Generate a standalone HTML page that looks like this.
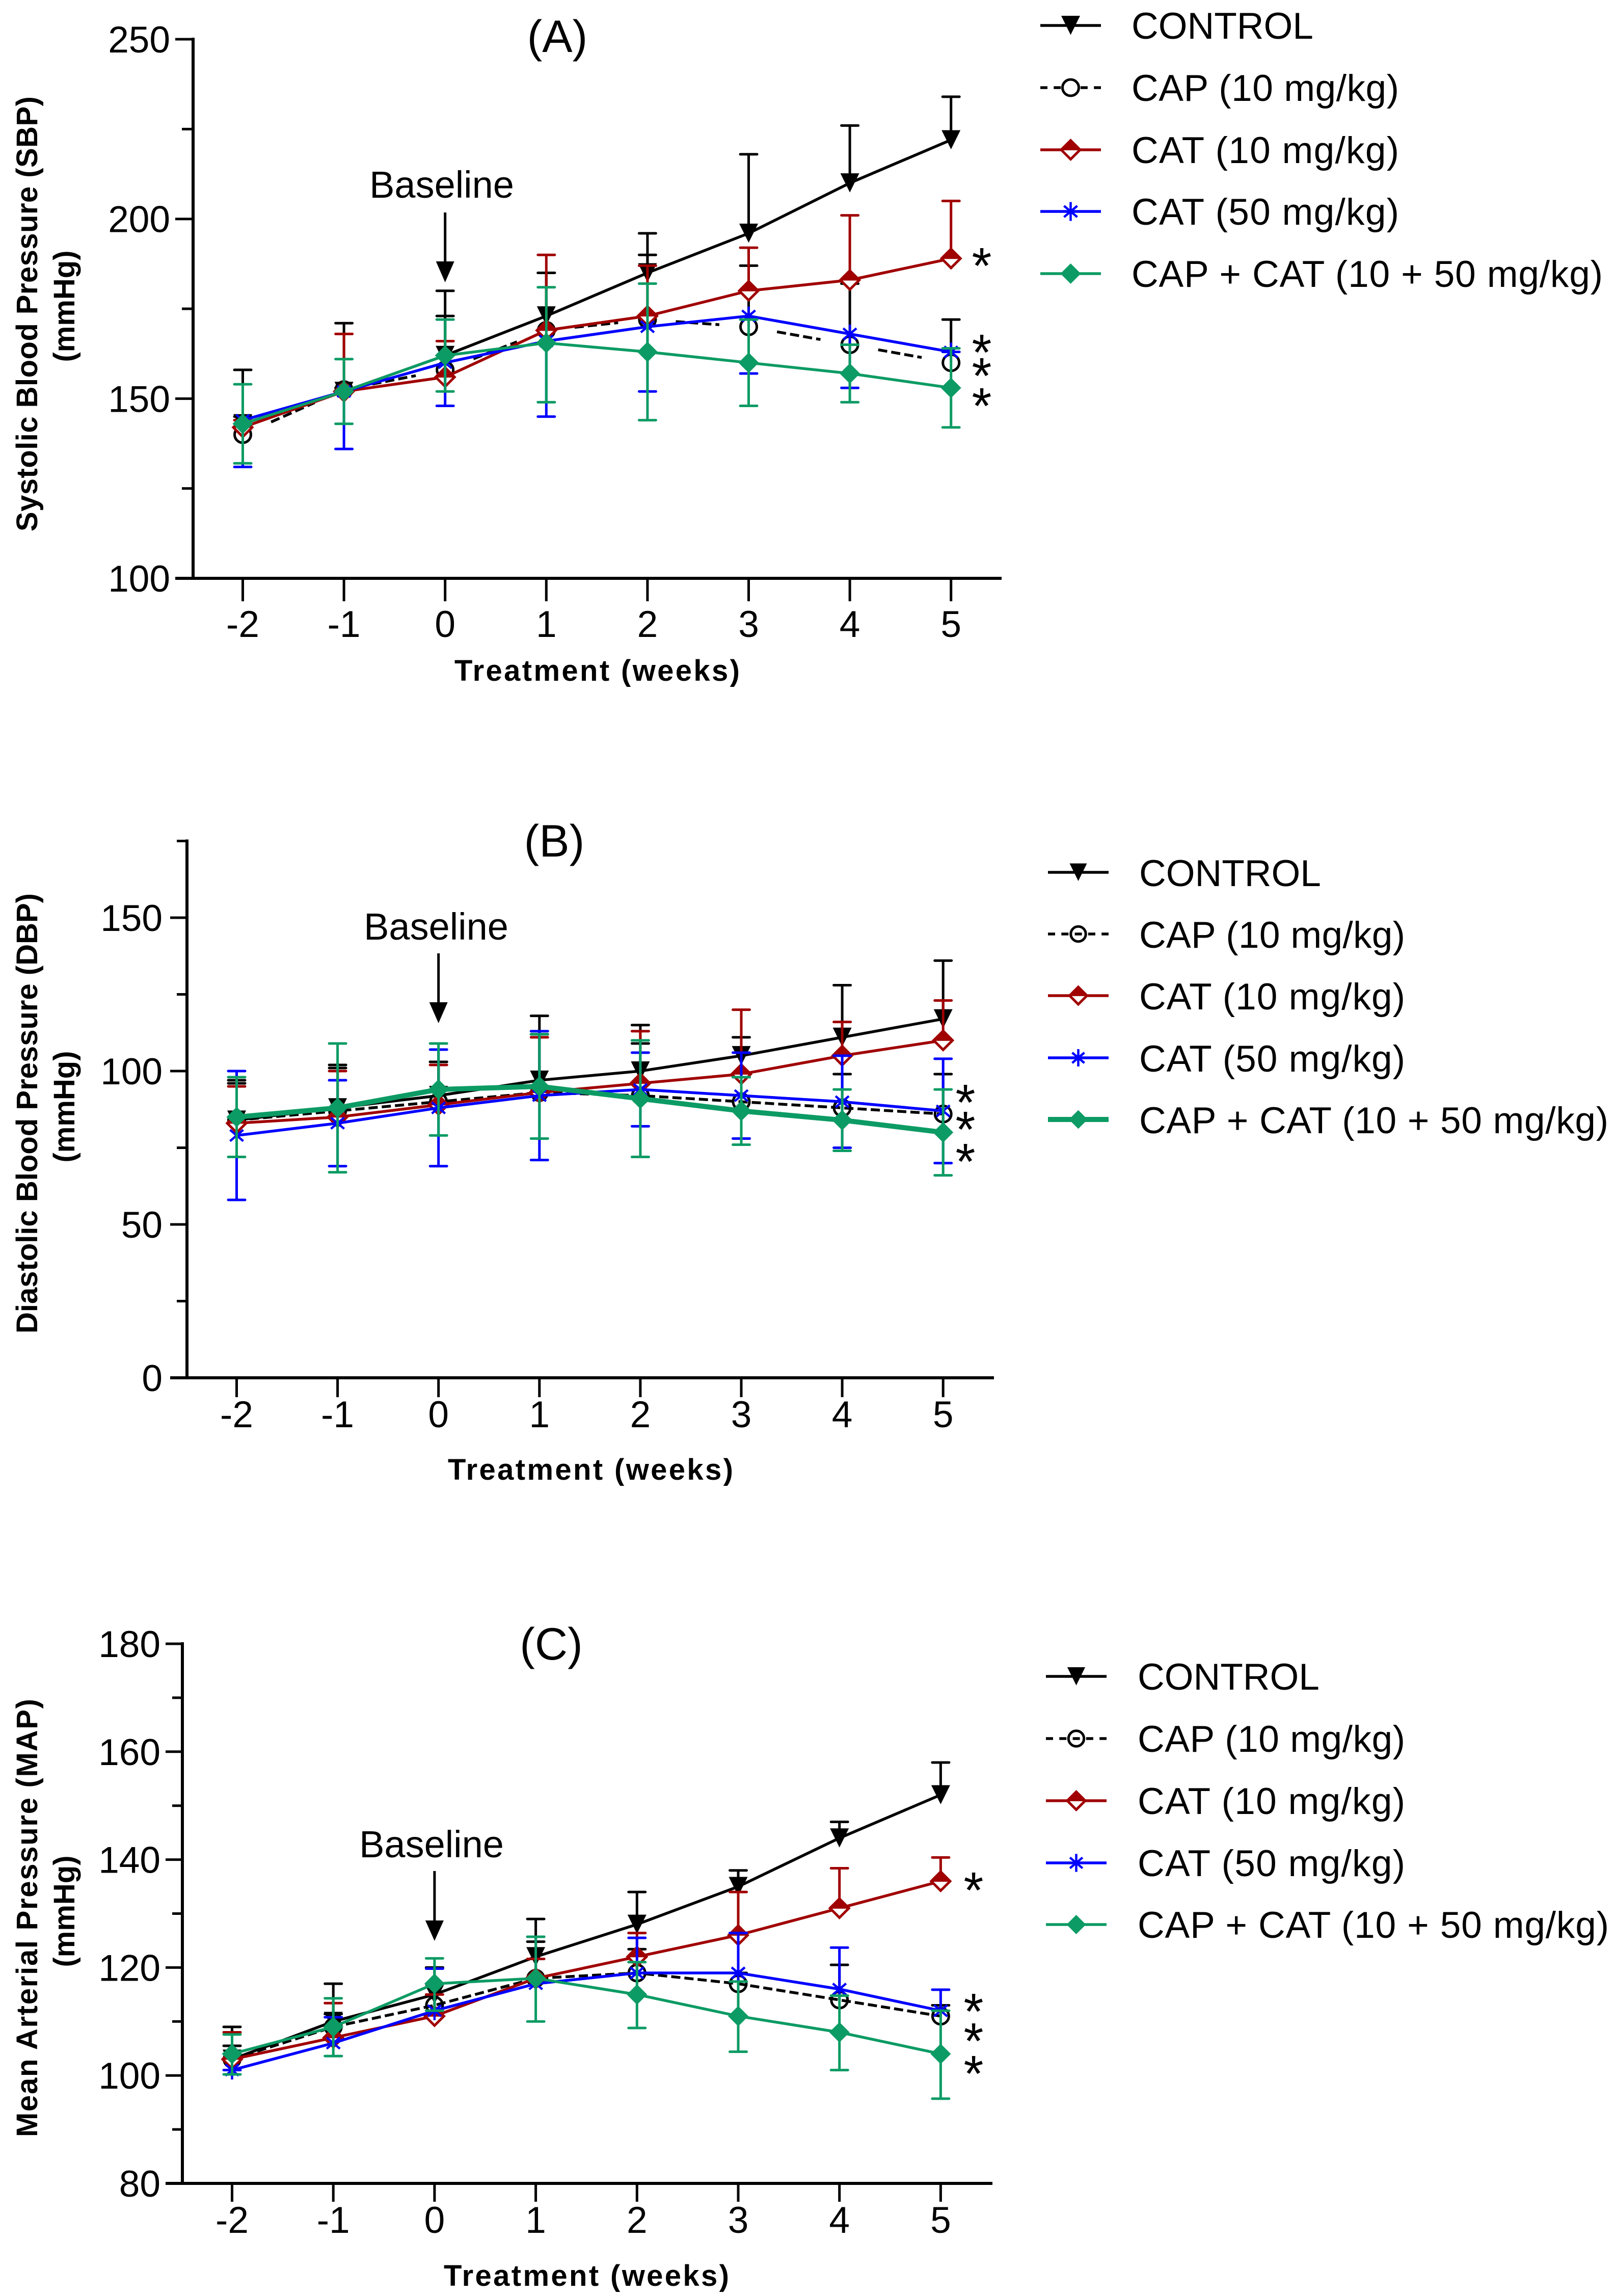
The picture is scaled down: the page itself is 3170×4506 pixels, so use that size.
<!DOCTYPE html>
<html lang="en">
<head>
<meta charset="utf-8">
<title>Blood pressure over treatment weeks</title>
<style>
html,body{margin:0;padding:0;background:#fff;}
svg{display:block;}
text{font-family:"Liberation Sans",Arial,sans-serif;fill:#000;}
.bold{font-weight:bold;font-size:58px;}
.tick{font-size:73px;}
.panel{font-size:89px;text-anchor:middle;}
.base{font-size:74px;text-anchor:middle;}
.leg{font-size:73px;}
.star{font-size:100px;text-anchor:middle;}
</style>
</head>
<body>
<svg id="fig" xmlns="http://www.w3.org/2000/svg" width="3170" height="4506" viewBox="0 0 3170 4506">
<rect width="3170" height="4506" fill="#fff"/>

<g id="panelA">
  <text class="panel" x="1094" y="102">(A)</text>
  <text class="bold" transform="translate(73,616) rotate(-90)" text-anchor="middle" textLength="854" lengthAdjust="spacing">Systolic Blood Pressure (SBP)</text>
  <text class="bold" transform="translate(146,601) rotate(-90)" text-anchor="middle">(mmHg)</text>
  <text class="bold" x="1172" y="1336" text-anchor="middle" textLength="560" lengthAdjust="spacing">Treatment (weeks)</text>
  <text class="base" x="867" y="388">Baseline</text>
  <text class="star" x="1927" y="556">*</text>
  <text class="star" x="1927" y="726">*</text>
  <text class="star" x="1927" y="772">*</text>
  <text class="star" x="1927" y="831">*</text>
</g>
<g id="legendA">
  <text class="leg" x="2221" y="76">CONTROL</text>
  <text class="leg" x="2221" y="198" textLength="525" lengthAdjust="spacing">CAP (10 mg/kg)</text>
  <text class="leg" x="2221" y="320" textLength="525" lengthAdjust="spacing">CAT (10 mg/kg)</text>
  <text class="leg" x="2221" y="441" textLength="525" lengthAdjust="spacing">CAT (50 mg/kg)</text>
  <text class="leg" x="2221" y="563" textLength="925" lengthAdjust="spacing">CAP + CAT (10 + 50 mg/kg)</text>
</g>

<g id="panelB">
  <text class="panel" x="1088" y="1681">(B)</text>
  <text class="bold" transform="translate(73,2185) rotate(-90)" text-anchor="middle" textLength="864" lengthAdjust="spacing">Diastolic Blood Pressure (DBP)</text>
  <text class="bold" transform="translate(146,2172) rotate(-90)" text-anchor="middle">(mmHg)</text>
  <text class="bold" x="1159" y="2904" text-anchor="middle" textLength="560" lengthAdjust="spacing">Treatment (weeks)</text>
  <text class="base" x="856" y="1844">Baseline</text>
  <text class="star" x="1895" y="2198">*</text>
  <text class="star" x="1895" y="2251">*</text>
  <text class="star" x="1895" y="2314">*</text>
</g>
<g id="legendB">
  <text class="leg" x="2236" y="1739">CONTROL</text>
  <text class="leg" x="2236" y="1860" textLength="522" lengthAdjust="spacing">CAP (10 mg/kg)</text>
  <text class="leg" x="2236" y="1981" textLength="522" lengthAdjust="spacing">CAT (10 mg/kg)</text>
  <text class="leg" x="2236" y="2103" textLength="522" lengthAdjust="spacing">CAT (50 mg/kg)</text>
  <text class="leg" x="2236" y="2224" textLength="921" lengthAdjust="spacing">CAP + CAT (10 + 50 mg/kg)</text>
</g>

<g id="panelC">
  <text class="panel" x="1082" y="3257">(C)</text>
  <text class="bold" transform="translate(73,3764) rotate(-90)" text-anchor="middle" textLength="860" lengthAdjust="spacing">Mean Arterial Pressure (MAP)</text>
  <text class="bold" transform="translate(146,3751) rotate(-90)" text-anchor="middle">(mmHg)</text>
  <text class="bold" x="1151" y="4486" text-anchor="middle" textLength="560" lengthAdjust="spacing">Treatment (weeks)</text>
  <text class="base" x="847" y="3645">Baseline</text>
  <text class="star" x="1911" y="3744">*</text>
  <text class="star" x="1911" y="3982">*</text>
  <text class="star" x="1911" y="4040">*</text>
  <text class="star" x="1911" y="4104">*</text>
</g>
<g id="legendC">
  <text class="leg" x="2233" y="3316">CONTROL</text>
  <text class="leg" x="2233" y="3438" textLength="525" lengthAdjust="spacing">CAP (10 mg/kg)</text>
  <text class="leg" x="2233" y="3560" textLength="525" lengthAdjust="spacing">CAT (10 mg/kg)</text>
  <text class="leg" x="2233" y="3682" textLength="525" lengthAdjust="spacing">CAT (50 mg/kg)</text>
  <text class="leg" x="2233" y="3803" textLength="925" lengthAdjust="spacing">CAP + CAT (10 + 50 mg/kg)</text>
</g>
</svg>

<script>
// ---- shared categories ----
const weeks = [-2, -1, 0, 1, 2, 3, 4, 5];

// ---- Panel A: SBP ----
const aMajorTicks = [100, 150, 200, 250];
const aMinorTicks = [125, 175, 225];
const aControl = [143, 152, 162, 173, 185, 196, 210, 222];
const aControlUp = [158, 171, 180, 185, 196, 218, 226, 234];
const aCap = [140, 152.5, 158, 169, 172, 170, 165, 160];
const aCapUp = [145, 153, 173, 185, 190, 187, 182, 172];
const aCat10 = [142, 152, 156, 169, 173, 180, 183, 189];
const aCat10Up = [144, 168, 166, 190, 187, 192, 201, 205];
const aCat50 = [144, 152, 160, 166, 170, 173, 168, 163];
const aCat50Low = [131, 136, 148, 145, 152, 157, 153, 163];
const aCombo = [143, 152, 162, 165.5, 163, 160, 157, 153];
const aComboUp = [154, 161, 172, 181, 182, 172, 165, 164];
const aComboLow = [132, 143, 152, 149, 144, 148, 149, 142];

// ---- Panel B: DBP ----
const bMajorTicks = [0, 50, 100, 150];
const bMinorTicks = [25, 75, 125, 175];
const bControl = [84, 88, 92, 97, 100, 105, 111, 117];
const bControlUp = [97, 102, 103, 118, 115, 111, 128, 136];
const bCap = [84, 87, 90, 93, 92, 90, 88, 86];
const bCapUp = [96, 101, 103, 112, 109, 98, 99, 99];
const bCat10 = [83, 85, 89, 93, 96, 99, 105, 110];
const bCat10Up = [95, 100, 102, 111, 113, 120, 116, 123];
const bCat50 = [79, 83, 88, 92, 94, 92, 90, 87];
const bCat50Up = [100, 97, 107, 113, 106, 106, 105, 104];
const bCat50Low = [58, 69, 69, 71, 82, 78, 75, 70];
const bCombo = [85, 88, 94, 95, 91, 87, 84, 80];
const bComboUp = [98, 109, 109, 112, 110, 98, 94, 94];
const bComboLow = [72, 67, 79, 78, 72, 76, 74, 66];

// ---- Panel C: MAP ----
const cMajorTicks = [80, 100, 120, 140, 160, 180];
const cMinorTicks = [90, 110, 130, 150, 170];
const cControl = [103, 110, 115, 122, 128, 135, 144, 152];
const cControlUp = [109, 117, 120, 129, 134, 138, 147, 158];
const cCap = [103, 109, 113, 118, 119, 117, 114, 111];
const cCapUp = [105.5, 111.4, 120, 124.8, 123.4, 119, 120.5, 113];
const cCat10 = [103, 107, 111, 118, 122, 126, 131, 136];
const cCat10Up = [108, 113.4, 115, 121.6, 126.4, 134, 138.4, 140.4];
const cCat50 = [101, 106, 112, 117, 119, 119, 116, 112];
const cCat50Up = [101, 110.8, 119.8, 125.7, 125.5, 126.4, 123.7, 115.9];
const cCombo = [104, 109, 117, 118, 115, 111, 108, 104];
const cComboUp = [107.6, 114.3, 121.7, 125.7, 121, 117.4, 114.8, 112];
const cComboLow = [100.2, 103.6, 112, 110, 108.8, 104.4, 101, 95.7];

const NS = 'http://www.w3.org/2000/svg';
const BLACK = '#000000', RED = '#a00000', BLUE = '#0000ff', GREEN = '#0c9b64';

function make(parent, tag, attrs) {
  const el = document.createElementNS(NS, tag);
  for (const k in attrs) el.setAttribute(k, attrs[k]);
  parent.appendChild(el);
  return el;
}

function drawMarker(parent, kind, cx, cy, s, openFill) {
  const g = make(parent, 'g', {});
  
  
  const pts = (arr) => arr.map(p => (cx + p[0] * s) + ',' + (cy + p[1] * s)).join(' ');
  if (kind === 'triangle') {
    make(g, 'polygon', { points: pts([[-18.5, -19], [18.5, -19], [0, 18.5]]), fill: BLACK });
  } else if (kind === 'circle') {
    make(g, 'circle', { cx: cx, cy: cy, r: 16 * s, fill: openFill, stroke: BLACK, 'stroke-width': 5 });
  } else if (kind === 'half-diamond') {
    make(g, 'polygon', { points: pts([[-18.5, 0], [0, -18.5], [18.5, 0], [0, 18.5]]), fill: '#fff', stroke: RED, 'stroke-width': 5 });
    make(g, 'polygon', { points: pts([[-21, 1], [0, -21.5], [21, 1]]), fill: RED });
  } else if (kind === 'star') {
    make(g, 'path', {
      d: 'M' + cx + ' ' + (cy - 18.5 * s) + 'V' + (cy + 18.5 * s) +
         'M' + (cx - 13 * s) + ' ' + (cy - 11 * s) + 'L' + (cx + 13 * s) + ' ' + (cy + 11 * s) +
         'M' + (cx + 13 * s) + ' ' + (cy - 11 * s) + 'L' + (cx - 13 * s) + ' ' + (cy + 11 * s),
      stroke: BLUE, 'stroke-width': 4.5, fill: 'none'
    });
  } else {
    make(g, 'polygon', { points: pts([[-20, 0], [0, -20], [20, 0], [0, 20]]), fill: GREEN });
  }
}

function drawPanel(cfg) {
  const root = document.getElementById(cfg.id);
  const xAt = v => cfg.x0 + (v - weeks[0]) * cfg.step;
  const yAt = v => cfg.yBase - (v - cfg.yMin) * cfg.k;
  const axes = make(root, 'g', {});
  
  

  const yLine = make(axes, 'line', { x1: cfg.axisX, x2: cfg.axisX, y1: yAt(cfg.yTop) - 3, y2: cfg.yBase + 3, stroke: '#000', 'stroke-width': 6 });
  
  
  const xLine = make(axes, 'line', { x1: cfg.tickLeft, x2: cfg.xEnd, y1: cfg.yBase, y2: cfg.yBase, stroke: '#000', 'stroke-width': 6 });
  
  

  cfg.major.forEach(v => {
    const t = make(axes, 'line', { x1: cfg.tickLeft, x2: cfg.axisX, y1: yAt(v), y2: yAt(v), stroke: '#000', 'stroke-width': 5 });
    
    
    const lab = make(axes, 'text', { x: cfg.labelRight, y: yAt(v) + 26, 'text-anchor': 'end', class: 'tick' });
    lab.textContent = String(v);
    
    
  });
  cfg.minor.forEach(v => {
    const t = make(axes, 'line', { x1: cfg.tickLeft + 13, x2: cfg.axisX, y1: yAt(v), y2: yAt(v), stroke: '#000', 'stroke-width': 5 });
    
    
  });
  weeks.forEach(w => {
    const t = make(axes, 'line', { x1: xAt(w), x2: xAt(w), y1: cfg.yBase, y2: cfg.yBase + cfg.xTick, stroke: '#000', 'stroke-width': 5 });
    
    
    const lab = make(axes, 'text', { x: xAt(w), y: cfg.xLabelY, 'text-anchor': 'middle', class: 'tick' });
    lab.textContent = String(w);
    
    
  });

  // baseline arrow
  const ax = xAt(0);
  const shaft = make(root, 'line', { x1: ax, x2: ax, y1: cfg.arrow[0], y2: cfg.arrow[1] + 2, stroke: '#000', 'stroke-width': 5 });
  
  
  const head = make(root, 'polygon', { points: (ax - 18) + ',' + cfg.arrow[1] + ' ' + (ax + 18) + ',' + cfg.arrow[1] + ' ' + ax + ',' + cfg.arrow[2], fill: '#000' });
  
  

  cfg.series.forEach(s => {
    const g = make(root, 'g', {});
    
    
    // error bars
    [s.up, s.low].forEach(list => {
      if (!list) return;
      list.forEach((v, i) => {
        const x = xAt(weeks[i]);
        const stem = make(g, 'line', { x1: x, x2: x, y1: yAt(s.mean[i]), y2: yAt(v), stroke: s.color, 'stroke-width': 5 });
        
        
        const cap = make(g, 'line', { x1: x - 16.5, x2: x + 16.5, y1: yAt(v), y2: yAt(v), stroke: s.color, 'stroke-width': 5, 'stroke-linecap': 'round' });
        
        
      });
    });
    // line
    if (s.dashed && cfg.dashWindow) {
      for (let i = 0; i < weeks.length - 1; i++) {
        const x1 = xAt(weeks[i]), x2 = xAt(weeks[i + 1]), y1 = yAt(s.mean[i]), y2 = yAt(s.mean[i + 1]);
        const f0 = cfg.dashWindow[0], f1 = cfg.dashWindow[1];
        const seg = make(g, 'line', {
          x1: x1 + (x2 - x1) * f0, y1: y1 + (y2 - y1) * f0,
          x2: x1 + (x2 - x1) * f1, y2: y1 + (y2 - y1) * f1,
          stroke: s.color, 'stroke-width': 5.5, 'stroke-dasharray': '18 8'
        });
        
        
      }
    } else {
      const path = make(g, 'polyline', {
        points: s.mean.map((v, i) => xAt(weeks[i]) + ',' + yAt(v)).join(' '),
        fill: 'none', stroke: s.color, 'stroke-width': s.width || 5.5,
        'stroke-dasharray': s.dashed ? '18 8' : 'none'
      });
      
      
    }
    // markers
    s.mean.forEach((v, i) => drawMarker(g, s.marker, xAt(weeks[i]), yAt(v), 1, cfg.openFill));
  });
}

function drawLegend(id, x0, x1, rows, comboWidth, s, openFill) {
  const root = document.getElementById(id);
  const cx = (x0 + x1) / 2;
  const kinds = ['triangle', 'circle', 'half-diamond', 'star', 'diamond'];
  const colors = [BLACK, BLACK, RED, BLUE, GREEN];
  rows.forEach((y, i) => {
    const l = make(root, 'line', {
      x1: x0, x2: x1, y1: y, y2: y, stroke: colors[i],
      'stroke-width': i === 4 ? comboWidth : 5.5,
      'stroke-dasharray': i === 1 ? '14 12.3' : 'none'
    });
    
    
    drawMarker(root, kinds[i], cx, y, s, openFill);
  });
}

drawPanel({
  id: 'panelA', x0: 476.5, step: 198.6, axisX: 379, yBase: 1135, yMin: 100, k: 7.053, yTop: 250,
  tickLeft: 344, labelRight: 334, xEnd: 1966, xTick: 45, xLabelY: 1250,
  major: aMajorTicks, minor: aMinorTicks, arrow: [417, 513, 554],
  dashWindow: [0.28, 0.71], openFill: '#fff',
  series: [
    { key: 'control', mean: aControl, up: aControlUp, color: BLACK, marker: 'triangle' },
    { key: 'cap', mean: aCap, up: aCapUp, color: BLACK, marker: 'circle', dashed: true },
    { key: 'cat10', mean: aCat10, up: aCat10Up, color: RED, marker: 'half-diamond' },
    { key: 'cat50', mean: aCat50, low: aCat50Low, color: BLUE, marker: 'star' },
    { key: 'combo', mean: aCombo, up: aComboUp, low: aComboLow, color: GREEN, marker: 'diamond' }
  ]
});
drawPanel({
  id: 'panelB', x0: 464.5, step: 198.1, axisX: 367, yBase: 2704, yMin: 0, k: 6.02, yTop: 175,
  tickLeft: 334, labelRight: 319, xEnd: 1951, xTick: 38, xLabelY: 2801,
  major: bMajorTicks, minor: bMinorTicks, arrow: [1871, 1967, 2008],
  dashWindow: null, openFill: 'none',
  series: [
    { key: 'control', mean: bControl, up: bControlUp, color: BLACK, marker: 'triangle' },
    { key: 'cap', mean: bCap, up: bCapUp, color: BLACK, marker: 'circle', dashed: true },
    { key: 'cat10', mean: bCat10, up: bCat10Up, color: RED, marker: 'half-diamond' },
    { key: 'cat50', mean: bCat50, up: bCat50Up, low: bCat50Low, color: BLUE, marker: 'star' },
    { key: 'combo', mean: bCombo, up: bComboUp, low: bComboLow, color: GREEN, marker: 'diamond', width: 10 }
  ]
});
drawPanel({
  id: 'panelC', x0: 455.5, step: 198.7, axisX: 358, yBase: 4285, yMin: 80, k: 10.59, yTop: 180,
  tickLeft: 325, labelRight: 315, xEnd: 1948, xTick: 36, xLabelY: 4382,
  major: cMajorTicks, minor: cMinorTicks, arrow: [3672, 3769, 3809],
  dashWindow: null, openFill: 'none',
  series: [
    { key: 'control', mean: cControl, up: cControlUp, color: BLACK, marker: 'triangle' },
    { key: 'cap', mean: cCap, up: cCapUp, color: BLACK, marker: 'circle', dashed: true },
    { key: 'cat10', mean: cCat10, up: cCat10Up, color: RED, marker: 'half-diamond' },
    { key: 'cat50', mean: cCat50, up: cCat50Up, color: BLUE, marker: 'star' },
    { key: 'combo', mean: cCombo, up: cComboUp, low: cComboLow, color: GREEN, marker: 'diamond' }
  ]
});

drawLegend('legendA', 2042, 2161, [50, 172, 294, 415, 537], 5.5, 1, '#fff');
drawLegend('legendB', 2057, 2176, [1712, 1833, 1954, 2076, 2197], 10, 0.92, 'none');
drawLegend('legendC', 2053, 2172, [3290, 3412, 3534, 3656, 3777], 5.5, 0.95, 'none');
</script>
</body>
</html>
